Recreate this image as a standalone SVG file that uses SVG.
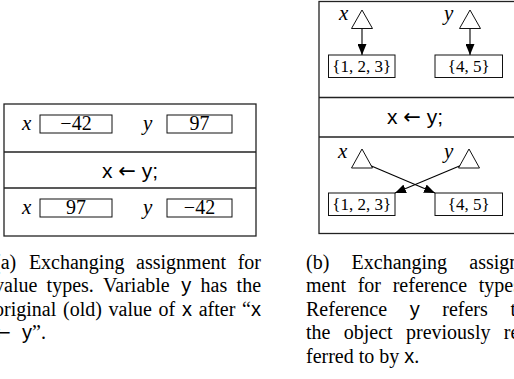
<svg xmlns="http://www.w3.org/2000/svg" width="514" height="379" viewBox="0 0 514 379">
<style>
.frame{fill:none;stroke:#222;stroke-width:1.3}
.box{fill:#fff;stroke:#111;stroke-width:1}
.tri{fill:#fff;stroke:#111;stroke-width:1}
.edge{stroke:#000;stroke-width:1.1;fill:none}
.mi{font-family:"Liberation Serif",serif;font-style:italic;font-size:21px;fill:#000}
.num{font-family:"Liberation Serif",serif;font-size:20px;fill:#000;text-anchor:middle}
.set{font-family:"Liberation Serif",serif;font-size:17px;fill:#000;text-anchor:middle}
.code{font-family:"Liberation Sans",sans-serif;font-size:21px;fill:#000;text-anchor:middle}
.arr{font-family:"DejaVu Sans",sans-serif}
.cap{font-family:"Liberation Serif",serif;font-size:20px;fill:#000}
.sf{font-family:"Liberation Sans",sans-serif}
</style>
<defs>
<marker id="ah" viewBox="0 0 11 9" refX="11" refY="4.5" markerWidth="11" markerHeight="9" orient="auto" markerUnits="userSpaceOnUse"><path d="M0,0 L11,4.5 L0,9 z" fill="#000"/></marker>
</defs>

<!-- (a) value types -->
<g id="tableA">
<rect class="frame" x="4" y="104" width="252" height="132"/>
<line class="frame" x1="4" y1="152" x2="256" y2="152"/>
<line class="frame" x1="4" y1="188" x2="256" y2="188"/>
</g>
<g id="a-before">
<text class="mi" x="22" y="130">x</text>
<rect class="box" x="40" y="115" width="72" height="18"/>
<text class="num" x="76" y="130">−42</text>
<text class="mi" x="143" y="130">y</text>
<rect class="box" x="167" y="115" width="65" height="18"/>
<text class="num" x="199.5" y="130">97</text>
</g>
<g id="a-stmt">
<text class="code" x="130" y="178">x <tspan class="arr">←</tspan> y;</text>
</g>
<g id="a-after">
<text class="mi" x="22" y="214">x</text>
<rect class="box" x="40" y="199" width="72" height="18"/>
<text class="num" x="76" y="214">97</text>
<text class="mi" x="143" y="214">y</text>
<rect class="box" x="167" y="199" width="65" height="18"/>
<text class="num" x="199.5" y="214">−42</text>
</g>

<!-- (b) reference types -->
<g id="tableB">
<rect class="frame" x="319" y="1.5" width="220" height="232"/>
<line class="frame" x1="319" y1="97.5" x2="539" y2="97.5"/>
<line class="frame" x1="319" y1="137" x2="539" y2="137"/>
</g>
<g id="connectors">
<line class="edge" x1="362" y1="28.5" x2="362" y2="55" marker-end="url(#ah)"/>
<line class="edge" x1="470" y1="28.5" x2="470" y2="55" marker-end="url(#ah)"/>
<line class="edge" x1="362" y1="162" x2="435" y2="193" marker-end="url(#ah)"/>
<line class="edge" x1="469" y1="162" x2="395" y2="193" marker-end="url(#ah)"/>
</g>
<g id="b-ref-x1">
<text class="mi" x="339" y="20">x</text>
<polygon class="tri" points="362,10 351.5,28.5 372.5,28.5"/>
</g>
<g id="b-ref-y1">
<text class="mi" x="444" y="20">y</text>
<polygon class="tri" points="470,10 459.5,28.5 480.5,28.5"/>
</g>
<g id="b-obj1">
<rect class="box" x="328.5" y="55" width="66.5" height="22.5"/>
<text class="set" x="361.7" y="72">{1, 2, 3}</text>
</g>
<g id="b-obj2">
<rect class="box" x="435" y="55" width="67.5" height="22.5"/>
<text class="set" x="468.7" y="72">{4, 5}</text>
</g>
<g id="b-stmt">
<text class="code" x="415" y="124">x <tspan class="arr">←</tspan> y;</text>
</g>
<g id="b-ref-x2">
<text class="mi" x="338" y="158">x</text>
<polygon class="tri" points="362,149 351.5,168 372.5,168"/>
</g>
<g id="b-ref-y2">
<text class="mi" x="444" y="158">y</text>
<polygon class="tri" points="469,149 458.5,168 479.5,168"/>
</g>
<g id="b-obj3">
<rect class="box" x="328.5" y="193" width="66.5" height="22.5"/>
<text class="set" x="361.7" y="210">{1, 2, 3}</text>
</g>
<g id="b-obj4">
<rect class="box" x="435" y="193" width="67.5" height="22.5"/>
<text class="set" x="468.7" y="210">{4, 5}</text>
</g>

<!-- captions -->
<g id="captionA" class="cap">
<text y="268.5"><tspan x="-6">(a)</tspan><tspan x="28.9">Exchanging</tspan><tspan x="136.1">assignment</tspan><tspan x="237.7">for</tspan></text>
<text y="292"><tspan x="-6">value</tspan><tspan x="46.6">types.</tspan><tspan x="103.1">Variable</tspan><tspan x="181.3" class="sf">y</tspan><tspan x="200.6">has</tspan><tspan x="236.6">the</tspan></text>
<text y="315.5"><tspan x="-6">original</tspan><tspan x="63">(old)</tspan><tspan x="108.6">value</tspan><tspan x="158.6">of</tspan><tspan x="182" class="sf">x</tspan><tspan x="198.7">after</tspan><tspan x="242.1">“</tspan><tspan class="sf">x</tspan></text>
<text y="339"><tspan x="-6" class="arr">←</tspan><tspan x="22" class="sf">y</tspan><tspan>”.</tspan></text>
</g>
<g id="captionB" class="cap">
<text y="268.5"><tspan x="306">(b)</tspan><tspan x="351.6">Exchanging</tspan><tspan x="469.3">assign</tspan></text>
<text y="292"><tspan x="306">ment</tspan><tspan x="357.7">for</tspan><tspan x="392.7">reference</tspan><tspan x="478.8">types</tspan></text>
<text y="315.5"><tspan x="306">Reference</tspan><tspan x="409.7" class="sf">y</tspan><tspan x="442.3">refers</tspan><tspan x="510.4">t</tspan></text>
<text y="339"><tspan x="306">the</tspan><tspan x="343.8">object</tspan><tspan x="406">previously</tspan><tspan x="503.8">re</tspan></text>
<text y="362.5" x="306">ferred to by <tspan class="sf">x</tspan>.</text>
</g>
</svg>
